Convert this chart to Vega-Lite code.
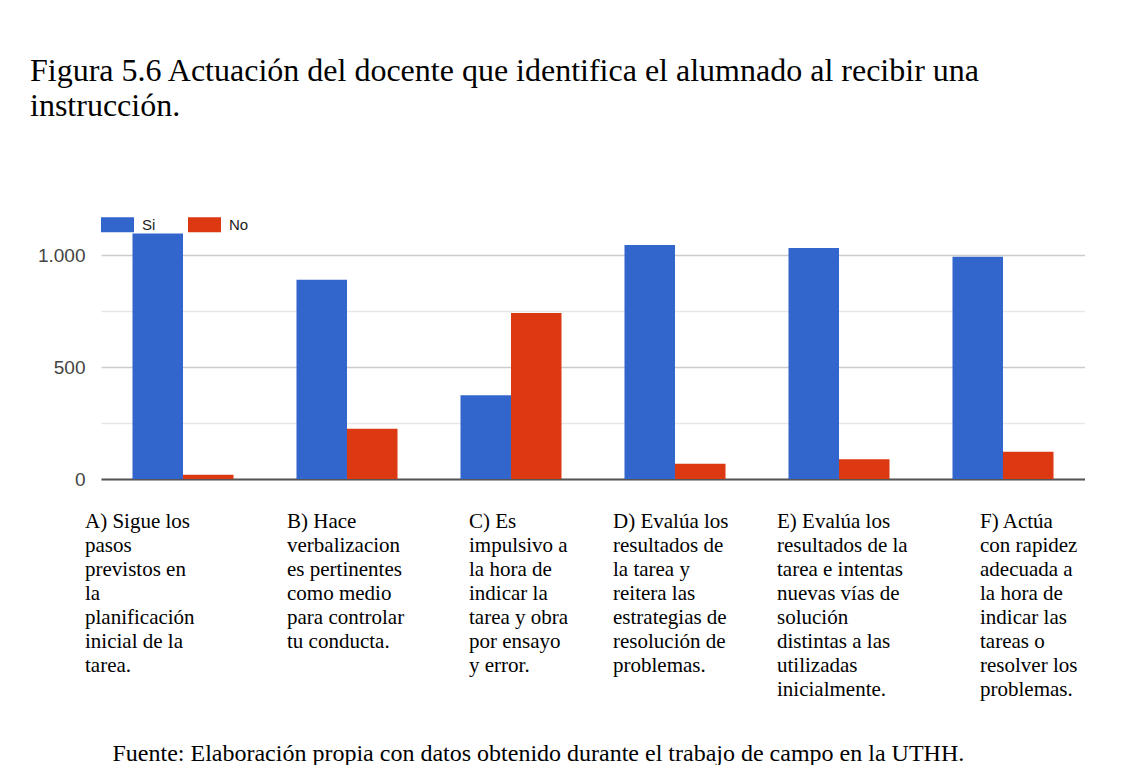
{
  "$schema": "https://vega.github.io/schema/vega-lite/v6.json",
  "width": 984,
  "height": 246,
  "padding": {"left": 30, "top": 55, "right": 0, "bottom": 0},
  "background": "white",
  "title": {
    "text": ["Figura 5.6 Actuación del docente que identifica el alumnado al recibir una", "instrucción."],
    "font": "Liberation Serif",
    "fontSize": 32,
    "fontWeight": "normal",
    "color": "#000000",
    "lineHeight": 35,
    "anchor": "start",
    "frame": "group",
    "dx": -71,
    "offset": 85
  },
  "data": {
    "values": [
      {"categoria": "A) Sigue los|pasos|previstos en|la|planificación|inicial de la|tarea.", "serie": "Si", "valor": 1098},
      {"categoria": "A) Sigue los|pasos|previstos en|la|planificación|inicial de la|tarea.", "serie": "No", "valor": 19},
      {"categoria": "B) Hace|verbalizacion|es pertinentes|como medio|para controlar|tu conducta.", "serie": "Si", "valor": 891},
      {"categoria": "B) Hace|verbalizacion|es pertinentes|como medio|para controlar|tu conducta.", "serie": "No", "valor": 225},
      {"categoria": "C) Es|impulsivo a|la hora de|indicar la|tarea y obra|por ensayo|y error.", "serie": "Si", "valor": 374},
      {"categoria": "C) Es|impulsivo a|la hora de|indicar la|tarea y obra|por ensayo|y error.", "serie": "No", "valor": 742},
      {"categoria": "D) Evalúa los|resultados de|la tarea y|reitera las|estrategias de|resolución de|problemas.", "serie": "Si", "valor": 1046},
      {"categoria": "D) Evalúa los|resultados de|la tarea y|reitera las|estrategias de|resolución de|problemas.", "serie": "No", "valor": 68},
      {"categoria": "E) Evalúa los|resultados de la|tarea e intentas|nuevas vías de|solución|distintas a las|utilizadas|inicialmente.", "serie": "Si", "valor": 1033},
      {"categoria": "E) Evalúa los|resultados de la|tarea e intentas|nuevas vías de|solución|distintas a las|utilizadas|inicialmente.", "serie": "No", "valor": 88},
      {"categoria": "F) Actúa|con rapidez|adecuada a|la hora de|indicar las|tareas o|resolver los|problemas.", "serie": "Si", "valor": 994},
      {"categoria": "F) Actúa|con rapidez|adecuada a|la hora de|indicar las|tareas o|resolver los|problemas.", "serie": "No", "valor": 122}
    ]
  },
  "mark": {"type": "bar"},
  "encoding": {
    "x": {
      "field": "categoria",
      "type": "nominal",
      "sort": null,
      "scale": {"paddingInner": 0.384, "paddingOuter": 0.192},
      "axis": {
        "title": "Fuente: Elaboración propia con datos obtenido durante el trabajo de campo en la UTHH.",
        "titleFont": "Liberation Serif",
        "titleFontSize": 24,
        "titleFontWeight": "normal",
        "titleColor": "#000000",
        "titleAlign": "left",
        "titleBaseline": "alphabetic",
        "titleX": 11,
        "titleY": 281,
        "labelExpr": "split(datum.value, '|')",
        "labelFont": "Liberation Serif",
        "labelFontSize": 21,
        "labelLineHeight": 24,
        "labelColor": "#000000",
        "labelAngle": 0,
        "labelAlign": "left",
        "labelBaseline": "top",
        "labelPadding": 31,
        "labelLimit": 0,
        "labelOverlap": false,
        "labelBound": false,
        "labelFlush": false,
        "labelOffset": {
          "condition": [
            {"test": "substring(datum.value,0,1) == 'A'", "value": -98},
            {"test": "substring(datum.value,0,1) == 'B'", "value": -60},
            {"test": "substring(datum.value,0,1) == 'C'", "value": -42},
            {"test": "substring(datum.value,0,1) == 'F'", "value": -23}
          ],
          "value": -62
        },
        "ticks": false,
        "domain": true,
        "domainColor": "#555555",
        "domainWidth": 2,
        "grid": false
      }
    },
    "xOffset": {"field": "serie", "type": "nominal", "sort": ["Si", "No"]},
    "y": {
      "field": "valor",
      "type": "quantitative",
      "scale": {"domain": [0, 1100], "nice": false},
      "axis": {
        "title": null,
        "values": [0, 250, 500, 750, 1000],
        "labelExpr": "datum.value == 1000 ? '1.000' : (datum.value % 500 == 0 ? datum.label : '')",
        "labelFont": "Liberation Sans",
        "labelFontSize": 19,
        "labelColor": "#444444",
        "labelPadding": 16,
        "ticks": false,
        "domain": false,
        "grid": true,
        "gridColor": {"condition": {"test": "datum.value % 500 == 0", "value": "#cccccc"}, "value": "#e6e6e6"},
        "gridWidth": 1.5
      }
    },
    "color": {
      "field": "serie",
      "type": "nominal",
      "scale": {"domain": ["Si", "No"], "range": ["#3366CC", "#DC3912"]},
      "legend": {
        "title": null,
        "orient": "top",
        "direction": "horizontal",
        "offset": 0,
        "padding": 0,
        "symbolType": "M-1,-0.45L1,-0.45L1,0.45L-1,0.45Z",
        "symbolSize": 1089,
        "symbolStrokeWidth": 0,
        "symbolOpacity": 1,
        "labelFont": "Liberation Sans",
        "labelFontSize": 15,
        "labelColor": "#222222",
        "labelOffset": 8,
        "columnPadding": 32
      }
    }
  },
  "config": {
    "view": {"stroke": null}
  }
}
